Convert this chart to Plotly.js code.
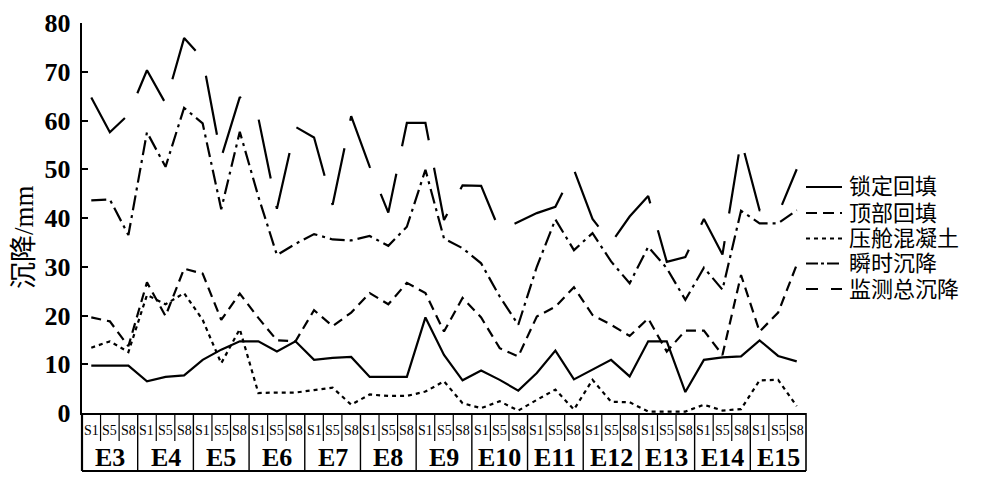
<!DOCTYPE html>
<html>
<head>
<meta charset="utf-8">
<script src="https://cdn.plot.ly/plotly-3.0.1.min.js"></script>
<style>html,body{margin:0;padding:0;background:#fff;}#chart{width:997px;height:489px;}</style>
</head>
<body>
<div id="chart"></div>
<script>
// ---- data ----
const groups = ['E3','E4','E5','E6','E7','E8','E9','E10','E11','E12','E13','E14','E15'];
const subs = ['S1','S5','S8'];
const seriesNames = ['锁定回填','顶部回填','压舱混凝土','瞬时沉降','监测总沉降'];
const yTicks = [0,10,20,30,40,50,60,70,80];

const lockBackfill = [9.7,9.7,9.7, 6.5,7.4,7.7, 10.9,13.0,14.7, 14.7,12.6,14.7, 10.9,11.3,11.5, 7.4,7.4,7.4, 19.6,11.9,6.7, 8.7,6.8,4.6, 8.2,12.8,6.9, 8.9,10.9,7.5, 14.7,14.7,4.3, 10.9,11.4,11.6, 14.9,11.7,10.6];
const topBackfill = [19.6,18.8,13.7, 26.8,19.9,29.6, 28.6,19.1,24.5, 19.5,14.9,14.7, 21.1,17.8,20.6, 24.6,22.3,26.7, 24.6,16.7,23.6, 19.6,13.3,11.6, 19.8,21.8,25.8, 20.1,18.1,15.8, 19.4,12.6,16.9, 16.9,11.9,28.3, 16.7,20.6,30.4];
const ballastConcrete = [13.4,14.7,12.5, 24.2,22.3,24.6, 19.1,10.2,17.2, 4.1,4.2,4.2, 4.7,5.2,1.7, 3.8,3.5,3.5, 4.4,6.5,2.0, 1.0,2.4,0.5, 2.7,4.8,0.7, 6.8,2.3,2.2, 0.3,0.3,0.3, 1.7,0.5,0.8, 6.7,6.8,1.4];
const instantSettle = [43.6,43.8,36.5, 57.6,50.5,62.6, 59.4,41.8,57.7, 44.4,32.4,34.7, 36.7,35.6,35.4, 36.3,34.3,38.2, 49.9,35.8,33.8, 30.7,23.9,18.1, 30.0,39.7,33.4, 36.9,31.1,26.6, 34.1,29.7,23.2, 29.8,25.3,41.5, 38.9,38.9,41.6];
const monitorTotal = [64.7,57.6,61.2, 70.3,63.5,76.9, 72.7,52.4,64.8, 60.5,41.9,58.7, 56.5,42.7,60.9, 50.5,41.1,59.5, 59.5,39.6,46.7, 46.6,37.4,39.2, 41.0,42.3,49.9, 39.8,34.9,40.3, 44.5,31.0,32.0, 39.8,32.5,56.0, 41.6,40.8,50.0];

// ---- build ----
const cats = [];
groups.forEach(g => subs.forEach(s => cats.push(g + '-' + s)));
const seriesVals = [lockBackfill, topBackfill, ballastConcrete, instantSettle, monitorTotal];
const dashes = ['solid', '10px,6px', '4px,4px', '15px,5px,3px,5px', '60px,28px'];
const legendDashes = ['solid', '11px,6px', '4px,4px', '12px,3px,3px,3px', '12px,13px'];

const traces = seriesVals.map((v, k) => ({
  type: 'scatter', mode: 'lines', name: seriesNames[k],
  x: cats, y: v,
  line: {color: '#000', width: 2.2, dash: dashes[k]},
  showlegend: false, hoverinfo: 'skip'
}));

// pixel helpers for decorations
const L = 82, R = 806, T = 23, B = 413;
const px2paperX = p => (p - L) / (R - L);
const px2paperY = p => (B - p) / (B - T);

const shapes = [];
const annotations = [];
const nCat = cats.length;
const boxBottom = px2paperY(471);
const subBottom = px2paperY(441);

// table frame
shapes.push({type:'line', xref:'paper', yref:'paper', x0:0, x1:0, y0:0, y1:boxBottom, line:{color:'#000', width:2.2}});
shapes.push({type:'line', xref:'paper', yref:'paper', x0:1, x1:1, y0:0, y1:boxBottom, line:{color:'#000', width:1.6}});
shapes.push({type:'line', xref:'paper', yref:'paper', x0:0, x1:1, y0:boxBottom, y1:boxBottom, line:{color:'#000', width:1.8}});
groups.forEach((g, gi) => {
  if (gi > 0) {
    shapes.push({type:'line', xref:'x', yref:'paper', x0:3*gi-0.5, x1:3*gi-0.5, y0:0, y1:boxBottom, line:{color:'#000', width:1.4}});
  }
  for (let j = 1; j < subs.length; j++) {
    shapes.push({type:'line', xref:'x', yref:'paper', x0:3*gi+j-0.5, x1:3*gi+j-0.5, y0:0, y1:subBottom, line:{color:'#000', width:1.2}});
  }
  subs.forEach((s, j) => {
    annotations.push({xref:'x', yref:'paper', x:3*gi+j, y:px2paperY(430), text:s, showarrow:false,
      xanchor:'center', yanchor:'middle', font:{family:'Liberation Serif', size:14, color:'#000'}});
  });
  annotations.push({xref:'x', yref:'paper', x:3*gi+1, y:px2paperY(457), text:g, showarrow:false,
    xanchor:'center', yanchor:'middle', font:{family:'Liberation Serif', size:26, color:'#000', weight:'bold'}});
});

// y title
annotations.push({xref:'paper', yref:'paper', x:px2paperX(24), y:px2paperY(237), text:'沉降/mm', textangle:-90,
  showarrow:false, xanchor:'center', yanchor:'middle', font:{family:'Liberation Serif, Noto Sans CJK SC', size:27, color:'#000'}});

// legend (manual)
const legRows = [187, 213, 238.5, 263.5, 289];
seriesNames.forEach((n, k) => {
  const yp = px2paperY(legRows[k]);
  shapes.push({type:'line', xref:'paper', yref:'paper', x0:px2paperX(806), x1:px2paperX(842), y0:yp, y1:yp,
    line:{color:'#000', width:2.2, dash:legendDashes[k]}});
  annotations.push({xref:'paper', yref:'paper', x:px2paperX(848), y:yp, text:n, showarrow:false,
    xanchor:'left', yanchor:'middle', borderpad:0, font:{family:'Liberation Serif, Noto Sans CJK SC', size:22, color:'#000'}});
});

const layout = {
  width: 997, height: 489,
  margin: {l: L, r: 997 - R, t: T, b: 489 - B},
  paper_bgcolor: '#fff', plot_bgcolor: '#fff',
  showlegend: false,
  xaxis: {type:'category', range:[-0.5, nCat - 0.5], showticklabels:false, ticks:'',
    showline:true, linecolor:'#000', linewidth:2, showgrid:false, zeroline:false, fixedrange:true},
  yaxis: {range:[0, 80], tickvals:yTicks, ticktext:yTicks.map(String), ticks:'inside', ticklen:6, tickwidth:2,
    tickcolor:'#000', showline:true, linecolor:'#000', linewidth:2.4, showgrid:false, zeroline:false,
    tickfont:{family:'Liberation Serif', size:26, color:'#000', weight:'bold'}, ticklabelstandoff:4, fixedrange:true},
  shapes: shapes,
  annotations: annotations
};

Plotly.newPlot('chart', traces, layout, {staticPlot:true, displayModeBar:false});
</script>
</body>
</html>
